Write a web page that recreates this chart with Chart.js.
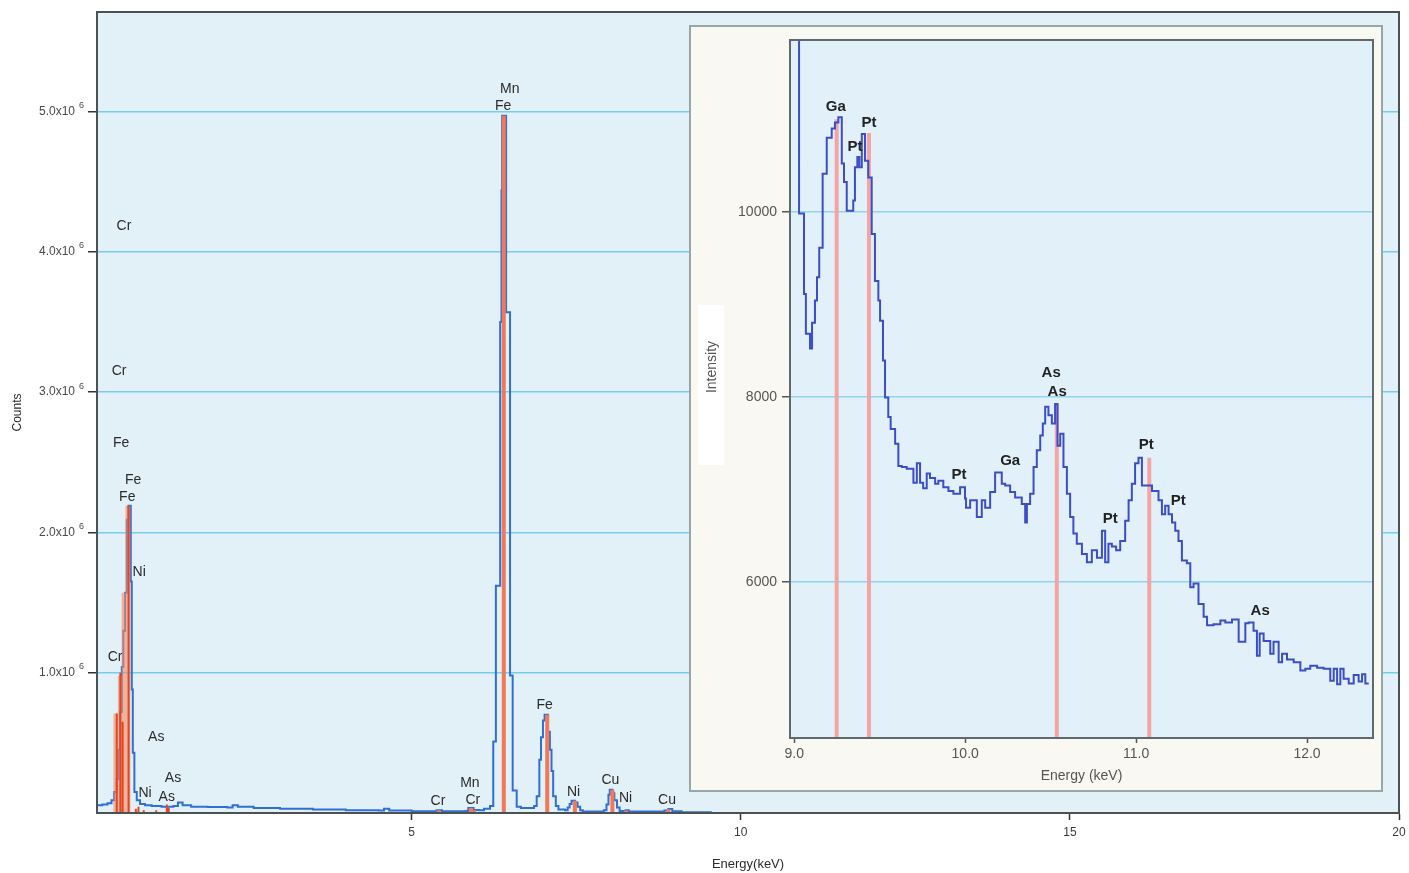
<!DOCTYPE html>
<html>
<head>
<meta charset="utf-8">
<script src="https://cdn.jsdelivr.net/npm/chart.js@4.4.1/dist/chart.umd.min.js"></script>
<style>
  html, body { margin: 0; padding: 0; background: #fff; }
  #wrap { position: relative; width: 1409px; height: 873px; overflow: hidden; }
  #main { position: absolute; left: 0; top: 0; }
  #inset { position: absolute; left: 689px; top: 25px; }
</style>
</head>
<body>
<div id="wrap">
  <canvas id="main" width="1409" height="873"></canvas>
  <canvas id="inset" width="694" height="767"></canvas>
</div>
<script>
// ---- main spectrum (energy keV, counts x10^6), values are left bin edges ----
const mainEnergy = [
  0.22, 0.30, 0.38, 0.44, 0.48, 0.52, 0.545, 0.57, 0.597, 0.62, 0.647, 0.673, 0.697,
  0.733, 0.748, 0.764, 0.788, 0.824, 0.874, 0.95, 1.05, 1.20, 1.38, 1.45, 1.52, 1.65,
  1.90, 2.20, 2.28, 2.36, 2.60, 3.00, 3.50, 4.00, 4.50, 4.58, 4.66, 5.00, 5.34, 5.38,
  5.46, 5.82, 5.86, 5.94, 6.02, 6.10, 6.19, 6.24, 6.28, 6.345, 6.365, 6.375, 6.435,
  6.495, 6.535, 6.596, 6.66, 6.80, 6.86, 6.90, 6.94, 6.965, 6.995, 7.02, 7.07, 7.10,
  7.125, 7.15, 7.19, 7.23, 7.33, 7.37, 7.40, 7.43, 7.48, 7.52, 7.56, 7.60, 7.92, 7.96,
  7.99, 8.01, 8.05, 8.08, 8.12, 8.16, 8.22, 8.25, 8.30, 8.84, 8.90, 8.96, 9.10, 9.56
];
const mainCounts = [
  0.055, 0.060, 0.070, 0.090, 0.150, 0.240, 0.450, 0.720, 1.040, 1.300, 1.570, 2.090, 2.190,
  1.650, 0.880, 0.430, 0.150, 0.090, 0.065, 0.055, 0.050, 0.045, 0.050, 0.075, 0.055, 0.045,
  0.042, 0.040, 0.055, 0.045, 0.035, 0.030, 0.025, 0.020, 0.018, 0.030, 0.018, 0.012, 0.012, 0.020,
  0.012, 0.015, 0.035, 0.022, 0.020, 0.030, 0.050, 0.510, 1.620, 3.500, 4.440, 4.970, 3.570,
  0.980, 0.160, 0.045, 0.035, 0.035, 0.050, 0.120, 0.380, 0.540, 0.660, 0.700, 0.580, 0.450,
  0.300, 0.120, 0.050, 0.025, 0.020, 0.040, 0.065, 0.088, 0.075, 0.045, 0.020, 0.010, 0.020, 0.060,
  0.130, 0.165, 0.140, 0.090, 0.040, 0.015, 0.012, 0.020, 0.010, 0.018, 0.028, 0.012, 0.006, 0.006
];

// element marker lines in the main spectrum
const paleLineEnergy = [0.507, 0.576, 0.632, 0.690];
const paleLineHeight = [0.71, 0.98, 1.57, 2.19];
const redLineEnergy = [0.52, 0.575, 0.61, 0.70, 0.81, 0.85, 0.93, 1.12, 1.28, 1.31];
const redLineHeight = [0.71, 1.00, 0.65, 2.19, 0.03, 0.045, 0.02, 0.02, 0.06, 0.035];
const kLineEnergy = [5.41, 5.90, 5.95, 6.40, 7.06, 7.48, 8.05, 8.26, 8.90];
const kLineHeight = [0.02, 0.035, 0.02, 4.97, 0.70, 0.088, 0.165, 0.018, 0.026];

// element labels in the main spectrum
const mainLabelText = ['Mn', 'Fe', 'Cr', 'Cr', 'Fe', 'Fe', 'Fe', 'Ni', 'Cr', 'As', 'As', 'Ni', 'As',
  'Cr', 'Mn', 'Cr', 'Fe', 'Ni', 'Cu', 'Ni', 'Cu'];
const mainLabelEnergy = [6.49, 6.39, 0.63, 0.556, 0.586, 0.77, 0.68, 0.86, 0.495, 1.12, 1.375, 0.95, 1.28,
  5.40, 5.885, 5.93, 7.02, 7.46, 8.02, 8.25, 8.88];
const mainLabelCounts = [5.16, 5.04, 4.18, 3.15, 2.64, 2.37, 2.25, 1.72, 1.11, 0.54, 0.25, 0.14, 0.11,
  0.085, 0.214, 0.093, 0.77, 0.15, 0.235, 0.107, 0.093];

const mainXTicks = [5, 10, 15, 20];
const mainYTicks = [1, 2, 3, 4, 5];

// ---- inset spectrum (energy keV, intensity) ----
const insetEnergy = [
  8.98, 9.028, 9.057, 9.068, 9.092, 9.104, 9.121, 9.133, 9.146, 9.166, 9.190, 9.219, 9.238,
  9.258, 9.278, 9.291, 9.307, 9.345, 9.355, 9.369, 9.381, 9.395, 9.414, 9.433, 9.453, 9.472,
  9.492, 9.502, 9.519, 9.531, 9.550, 9.564, 9.590, 9.609, 9.629, 9.658, 9.697, 9.717, 9.736,
  9.754, 9.775, 9.794, 9.824, 9.843, 9.872, 9.902, 9.931, 9.970, 9.999, 10.005, 10.029, 10.068,
  10.097, 10.117, 10.146, 10.175, 10.214, 10.234, 10.263, 10.292, 10.331, 10.351, 10.361, 10.380,
  10.400, 10.419, 10.439, 10.454, 10.468, 10.487, 10.507, 10.526, 10.540, 10.556, 10.575, 10.595,
  10.614, 10.633, 10.653, 10.683, 10.712, 10.741, 10.771, 10.800, 10.819, 10.838, 10.858, 10.883,
  10.907, 10.936, 10.956, 10.975, 10.994, 11.014, 11.034, 11.093, 11.131, 11.151, 11.170, 11.190,
  11.210, 11.229, 11.248, 11.268, 11.297, 11.317, 11.336, 11.365, 11.395, 11.415, 11.453, 11.493,
  11.522, 11.561, 11.600, 11.639, 11.658, 11.687, 11.707, 11.723, 11.746, 11.785, 11.804, 11.834,
  11.854, 11.883, 11.922, 11.961, 11.990, 12.019, 12.059, 12.097, 12.136, 12.156, 12.176, 12.195,
  12.214, 12.244, 12.273, 12.302, 12.322, 12.341, 12.361, 12.39
];
const insetIntensity = [
  13500, 9980, 9110, 8680, 8520, 8800, 9040, 9290, 9610, 10410, 10800, 10900, 10965,
  11020, 10520, 10320, 10010, 10120, 10480, 10590, 10480, 10840, 10550, 10370, 9760, 9250,
  9040, 8820, 8390, 7990, 7780, 7650, 7490, 7250, 7240, 7220, 7070, 7280, 7070,
  7010, 7170, 7120, 7060, 7090, 7020, 6980, 6950, 7020, 6900, 6800, 6880,
  6700, 6880, 6800, 6970, 7180, 7060, 7040, 6970, 6910, 6840, 6640, 6840,
  6950, 7240, 7420, 7580, 7710, 7890, 7800, 7710, 7920, 7470, 7600, 7240,
  6950, 6700, 6520, 6410, 6300, 6210, 6340, 6260, 6550, 6210, 6410, 6380,
  6340, 6440, 6660, 6880, 7060, 7280, 7340, 7040, 6980, 6880, 6730, 6820,
  6730, 6640, 6550, 6440, 6230, 6200, 5940, 5980, 5760, 5620, 5530, 5540,
  5580, 5560, 5590, 5350, 5550, 5560, 5470, 5200, 5440, 5360, 5220, 5350,
  5130, 5220, 5160, 5130, 5040, 5060, 5090, 5070, 5060, 4930, 5060, 4890,
  5060, 4950, 4900, 4990, 4920, 5000, 4900, 4900
];
const insetLineEnergy = [9.248, 9.437, 10.536, 11.077];
const insetLineTop = [11000, 10850, 7920, 7340];

const insetLabelText = ['Ga', 'Pt', 'Pt', 'Pt', 'Ga', 'As', 'As', 'Pt', 'Pt', 'Pt', 'As'];
const insetLabelEnergy = [9.243, 9.437, 9.355, 9.964, 10.263, 10.503, 10.538, 10.848, 11.059, 11.247, 11.726];
const insetLabelIntensity = [11135, 10962, 10703, 7157, 7308, 8260, 8054, 6681, 7481, 6876, 5687];

const insetXTicks = [9, 10, 11, 12];
const insetYTicks = [6000, 8000, 10000];

const FONT = "'Liberation Sans', Arial, sans-serif";

// build x/y points from two arrays
function toPoints(xs, ys) {
  return xs.map((x, i) => ({ x, y: ys[i] }));
}

// vertical marker lines: (e,0) -> (e,h), broken by a null point
function toSticks(xs, hs) {
  return xs.flatMap((x, i) => [{ x, y: 0 }, { x, y: hs[i] }, { x, y: null }]);
}

// fixed axis box size, no extra label padding pushed into the layout
function fixBox(size) {
  return s => {
    if (s.isHorizontal()) s.height = size; else s.width = size;
    s.paddingTop = s.paddingBottom = s.paddingLeft = s.paddingRight = 0;
  };
}

// plot background, full frame and text labels
const framePlugin = {
  id: 'frame',
  beforeDraw(chart, args, opts) {
    const { ctx, chartArea: a } = chart;
    ctx.save();
    if (opts.canvasBg) {
      ctx.fillStyle = opts.canvasBg;
      ctx.fillRect(0, 0, chart.width, chart.height);
      ctx.strokeStyle = opts.canvasBorder;
      ctx.lineWidth = 2;
      ctx.strokeRect(1, 1, chart.width - 2, chart.height - 2);
    }
    if (opts.whiteBox) {
      const b = opts.whiteBox;
      ctx.fillStyle = '#ffffff';
      ctx.fillRect(b[0], b[1], b[2], b[3]);
    }
    ctx.fillStyle = opts.plotBg;
    ctx.fillRect(a.left, a.top, a.right - a.left, a.bottom - a.top);
    ctx.restore();
  },
  afterDatasetsDraw(chart, args, opts) {
    const { ctx, chartArea: a, scales: { x, y } } = chart;
    ctx.save();
    ctx.strokeStyle = opts.borderColor;
    ctx.lineWidth = 2;
    ctx.strokeRect(a.left, a.top, a.right - a.left, a.bottom - a.top);

    ctx.fillStyle = opts.labelColor;
    ctx.font = opts.labelFont;
    ctx.textAlign = 'center';
    ctx.textBaseline = 'middle';
    opts.labels.text.forEach((t, i) => {
      ctx.fillText(t, x.getPixelForValue(opts.labels.x[i]), y.getPixelForValue(opts.labels.y[i]));
    });

    if (opts.superscript) {
      ctx.font = '9px ' + FONT;
      ctx.fillStyle = '#4a4a4a';
      ctx.textAlign = 'left';
      y.ticks.forEach(t => {
        ctx.fillText('6', a.left - 18, y.getPixelForValue(t.value) - 6);
      });
    }
    if (opts.yTitle) {
      ctx.translate(opts.yTitle.x, opts.yTitle.y);
      ctx.rotate(-Math.PI / 2);
      ctx.font = opts.yTitle.font;
      ctx.fillStyle = opts.yTitle.color;
      ctx.textAlign = 'center';
      ctx.fillText(opts.yTitle.text, 0, 0);
    }
    ctx.restore();
  }
};

// ---- main chart ----
new Chart(document.getElementById('main').getContext('2d'), {
  type: 'line',
  data: {
    datasets: [
      {
        data: toSticks(redLineEnergy, redLineHeight),
        borderColor: '#e5461f', borderWidth: 2, pointRadius: 0, order: 0
      },
      {
        data: toSticks(kLineEnergy, kLineHeight),
        borderColor: '#f27858', borderWidth: 4, pointRadius: 0, order: 1
      },
      {
        data: toSticks(paleLineEnergy, paleLineHeight),
        borderColor: 'rgba(243,140,100,0.6)', borderWidth: 5, pointRadius: 0, order: 2
      },
      {
        data: toPoints(mainEnergy, mainCounts),
        borderColor: '#2f6fd6', borderWidth: 2, pointRadius: 0, stepped: true, order: 3
      }
    ]
  },
  options: {
    responsive: false,
    animation: false,
    layout: { padding: { top: 12, right: 10, left: 0, bottom: 0 } },
    scales: {
      x: {
        type: 'linear', min: 0.22, max: 20,
        afterFit: fixBox(60),
        afterBuildTicks: s => { s.ticks = mainXTicks.map(v => ({ value: v })); },
        grid: { drawOnChartArea: false, tickLength: 7, tickColor: '#333', tickWidth: 1.5 },
        border: { color: '#4b5254', width: 2 },
        ticks: { color: '#3a3a3a', font: { family: FONT, size: 12 }, padding: 5, maxRotation: 0, autoSkip: false },
        title: { display: true, text: 'Energy(keV)', color: '#2b2b2b', font: { family: FONT, size: 13 }, padding: { top: 0, bottom: 1 } }
      },
      y: {
        min: 0, max: 5.71,
        afterFit: fixBox(97),
        afterBuildTicks: s => { s.ticks = mainYTicks.map(v => ({ value: v })); },
        grid: { color: '#72cdef', lineWidth: 1.5, tickLength: 9, tickColor: '#333', tickWidth: 1.5 },
        border: { color: '#4b5254', width: 2 },
        ticks: {
          color: '#4a4a4a', font: { family: FONT, size: 12 }, padding: 13, autoSkip: false,
          callback: v => v.toFixed(1) + 'x10'
        },
        title: { display: true, text: 'Counts', color: '#2b2b2b', font: { family: FONT, size: 12 }, padding: { top: 10, bottom: 0 } }
      }
    },
    plugins: {
      legend: { display: false },
      tooltip: { enabled: false },
      frame: {
        plotBg: '#e2f0f8', borderColor: '#4b5254',
        labelColor: '#2b2b2b', labelFont: '14px ' + FONT,
        labels: { text: mainLabelText, x: mainLabelEnergy, y: mainLabelCounts },
        superscript: true
      }
    }
  },
  plugins: [framePlugin]
});

// ---- inset chart ----
new Chart(document.getElementById('inset').getContext('2d'), {
  type: 'line',
  data: {
    datasets: [
      {
        data: toPoints(insetEnergy, insetIntensity),
        borderColor: '#3b4ec6', borderWidth: 2, pointRadius: 0, stepped: true, order: 0
      },
      {
        data: toSticks(insetLineEnergy, insetLineTop),
        borderColor: '#f3a5a3', borderWidth: 4, pointRadius: 0, order: 1
      }
    ]
  },
  options: {
    responsive: false,
    animation: false,
    layout: { padding: { top: 15, right: 10, left: 0, bottom: 0 } },
    scales: {
      x: {
        type: 'linear', min: 8.975, max: 12.386,
        afterFit: fixBox(54),
        afterBuildTicks: s => { s.ticks = insetXTicks.map(v => ({ value: v })); },
        grid: { drawOnChartArea: false, tickLength: 5, tickColor: '#555', tickWidth: 1.5 },
        border: { color: '#5d6a6b', width: 2 },
        ticks: { color: '#555', font: { family: FONT, size: 14 }, padding: 3, maxRotation: 0, autoSkip: false,
          callback: v => v.toFixed(1) },
        title: { display: true, text: 'Energy (keV)', color: '#555', font: { family: FONT, size: 14 }, padding: { top: 0, bottom: 7 } }
      },
      y: {
        min: 4310, max: 11856,
        afterFit: fixBox(101),
        afterBuildTicks: s => { s.ticks = insetYTicks.map(v => ({ value: v })); },
        grid: { color: '#8fd5f1', lineWidth: 1.5, tickLength: 8, tickColor: '#555', tickWidth: 1.5 },
        border: { color: '#5d6a6b', width: 2 },
        ticks: { color: '#555', font: { family: FONT, size: 14 }, padding: 5, autoSkip: false,
          callback: v => String(v) }
      }
    },
    plugins: {
      legend: { display: false },
      tooltip: { enabled: false },
      frame: {
        canvasBg: '#faf8f3', canvasBorder: '#9aa5a5', whiteBox: [9, 280, 26, 160],
        plotBg: '#e2f1f9', borderColor: '#5d6a6b',
        labelColor: '#222', labelFont: 'bold 15px ' + FONT,
        labels: { text: insetLabelText, x: insetLabelEnergy, y: insetLabelIntensity },
        yTitle: { text: 'Intensity', x: 23, y: 342, font: '14px ' + FONT, color: '#555' }
      }
    }
  },
  plugins: [framePlugin]
});
</script>
</body>
</html>
